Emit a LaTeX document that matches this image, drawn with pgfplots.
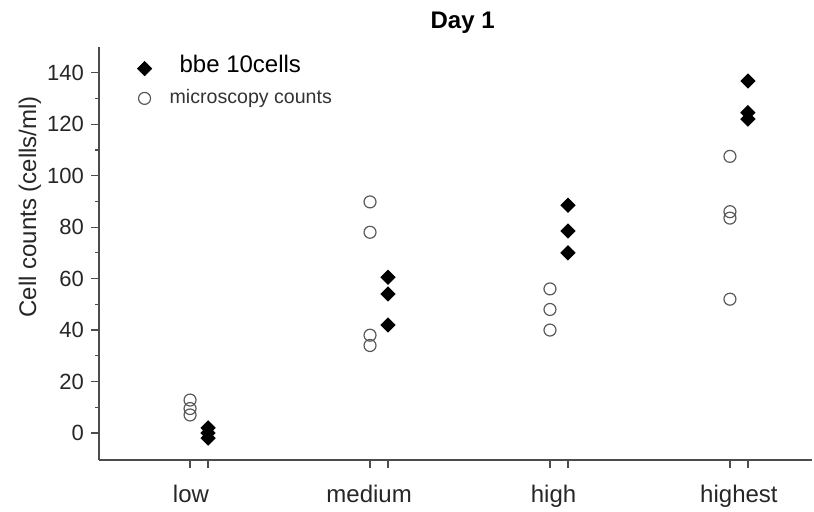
\documentclass[border=0pt]{standalone}
\usepackage{pgfplots}
\pgfplotsset{compat=1.18}
\usepackage{fontspec}
\setmainfont{Liberation Sans}
\begin{document}
\begin{tikzpicture}
\begin{axis}[
  scale only axis, width=356.5pt, height=206.5pt,
  xmin=-0.556, xmax=3.406, ymin=-10.5, ymax=150,
  axis lines*=left,
  axis line style={black!70, line width=0.6pt},
  tick align=outside,
  tick style={black!70, line width=0.6pt},
  major tick length=4pt, minor tick length=2pt,
  ytick={0,20,...,140}, minor y tick num=1,
  xtick={-0.05,0.05,0.95,1.05,1.95,2.05,2.95,3.05},
  xticklabels={},
  extra x ticks={-0.045,0.945,1.97,3.0},
  extra x tick labels={low,medium,high,highest},
  extra x tick style={major tick length=0pt, xticklabel style={yshift=-9pt, font=\fontsize{12}{14}\selectfont}},
  /pgf/number format/assume math mode=true,
  tick label style={font=\fontsize{11}{13}\selectfont, black!85},
  ylabel={Cell counts (cells/ml)},
  ylabel style={font=\fontsize{12}{14}\selectfont, black!85, at={(axis description cs:-0.097,0.613)}, anchor=center},
  title={\textbf{Day 1}},
  title style={at={(0.51,1)}, anchor=center, font=\fontsize{12}{14}\selectfont, yshift=6pt},
  legend style={draw=none, fill=none, at={(0.045,1.0)}, anchor=north west,
    font=\fontsize{9.8}{11}\selectfont, row sep=0pt, nodes={black!80}},
  legend cell align=left,
]
\addplot[only marks, mark=square*, mark size=2.5pt, mark options={rotate=45, fill=black, draw=black}]
coordinates {
(0.05,2) (0.05,0) (0.05,-2)
(1.05,60.5) (1.05,54) (1.05,42)
(2.05,88.5) (2.05,78.5) (2.05,70)
(3.05,136.8) (3.05,124.5) (3.05,122)
};
\addlegendentry{\raisebox{3pt}{\fontsize{12}{14}\selectfont\color{black}\hspace{12pt}bbe 10cells}}
\addplot[only marks, mark=o, mark size=3pt, mark options={draw=black!65, line width=0.6pt}]
coordinates {
(-0.05,12.8) (-0.05,9.5) (-0.05,7)
(0.95,89.8) (0.95,78) (0.95,38) (0.95,34)
(1.95,56) (1.95,48) (1.95,40)
(2.95,107.5) (2.95,86) (2.95,83.5) (2.95,52)
};
\addlegendentry{\hspace{7pt}microscopy counts}
\end{axis}
\pgfresetboundingbox
\path (current axis.south west) ++(-49.5pt,-25.5pt) rectangle ++(407pt,255.5pt);
\end{tikzpicture}
\end{document}
